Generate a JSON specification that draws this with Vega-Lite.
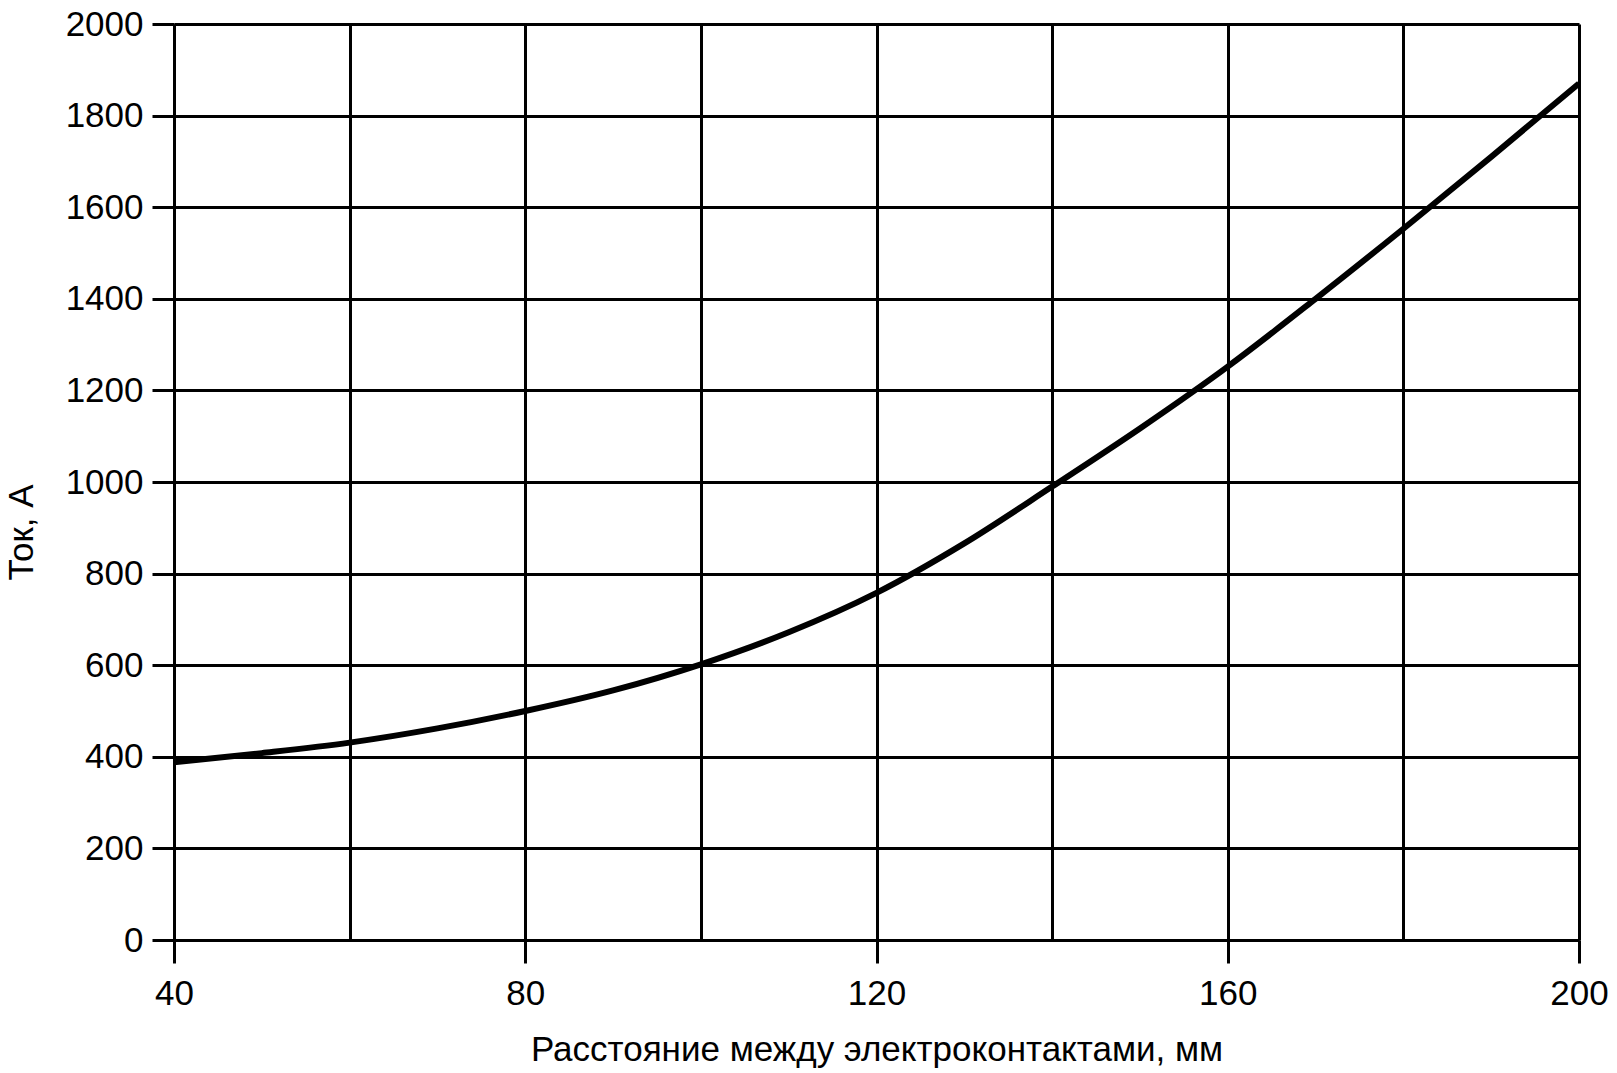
{
  "$schema": "https://vega.github.io/schema/vega-lite/v6.json",
  "width": 1405,
  "height": 916,
  "autosize": "none",
  "padding": {"left": 174, "top": 24, "right": 38, "bottom": 133},
  "background": "white",
  "config": {
    "font": "Liberation Sans",
    "view": {"stroke": null},
    "axis": {
      "domainColor": "black",
      "domainWidth": 3,
      "gridColor": "black",
      "gridWidth": 3,
      "gridOpacity": 1,
      "tickColor": "black",
      "tickWidth": 3,
      "labelColor": "black",
      "titleColor": "black",
      "labelFont": "Liberation Sans",
      "titleFont": "Liberation Sans",
      "labelFontSize": 35,
      "titleFontSize": 35,
      "titleFontWeight": "normal"
    }
  },
  "data": {
    "values": [
      {"x": 40, "y": 388},
      {"x": 50, "y": 408},
      {"x": 60, "y": 431},
      {"x": 70, "y": 462},
      {"x": 80, "y": 500},
      {"x": 90, "y": 545},
      {"x": 100, "y": 602},
      {"x": 110, "y": 672},
      {"x": 120, "y": 758},
      {"x": 130, "y": 866},
      {"x": 140, "y": 990},
      {"x": 150, "y": 1117},
      {"x": 160, "y": 1252},
      {"x": 170, "y": 1400},
      {"x": 180, "y": 1553},
      {"x": 190, "y": 1710},
      {"x": 200, "y": 1870}
    ]
  },
  "mark": {"type": "line", "color": "black", "strokeWidth": 6, "interpolate": "monotone"},
  "encoding": {
    "x": {
      "field": "x",
      "type": "quantitative",
      "scale": {"domain": [40, 200], "nice": false, "zero": false},
      "axis": {
        "values": [40, 60, 80, 100, 120, 140, 160, 180, 200],
        "format": "d",
        "labelExpr": "datum.value % 40 == 0 ? datum.label : ''",
        "tickOpacity": {"condition": {"test": "datum.value % 40 == 0", "value": 1}, "value": 0},
        "tickSize": 23,
        "labelPadding": 13,
        "labelFlush": false,
        "labelOverlap": false,
        "title": "Расстояние между электроконтактами, мм",
        "titleY": 109,
        "titleBaseline": "middle"
      }
    },
    "y": {
      "field": "y",
      "type": "quantitative",
      "scale": {"domain": [0, 2000], "nice": false},
      "axis": {
        "values": [0, 200, 400, 600, 800, 1000, 1200, 1400, 1600, 1800, 2000],
        "format": "d",
        "tickSize": 22,
        "labelPadding": 9,
        "labelOverlap": false,
        "labelFlush": false,
        "title": "Ток, А",
        "titleAngle": -90,
        "titleX": -153,
        "titleY": 508,
        "titleBaseline": "middle",
        "titleAlign": "center"
      }
    }
  }
}
